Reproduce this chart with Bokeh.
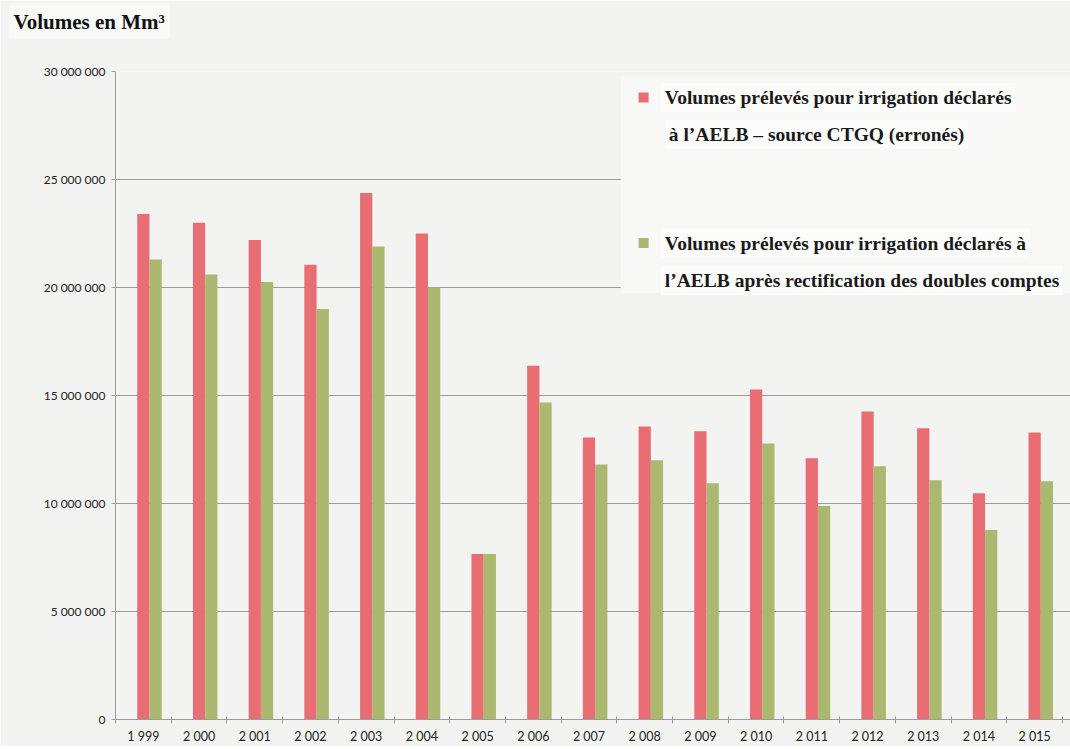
import numpy as np
from bokeh.plotting import figure
from bokeh.models import (Range1d, FixedTicker, CustomJSTickFormatter, Label,
                          BoxAnnotation, ColumnDataSource, Title)
from bokeh.transform import dodge
from bokeh.embed import file_html
from bokeh.resources import INLINE

# ---------------- data ----------------
years = ["1 999", "2 000", "2 001", "2 002", "2 003", "2 004", "2 005", "2 006",
         "2 007", "2 008", "2 009", "2 010", "2 011", "2 012", "2 013", "2 014", "2 015"]
declared_ctgq = [23.4e6, 23.0e6, 22.2e6, 21.05e6, 24.37e6, 22.5e6, 7.66e6, 16.38e6,
                 13.06e6, 13.57e6, 13.34e6, 15.28e6, 12.09e6, 14.26e6, 13.48e6,
                 10.48e6, 13.29e6]
rectified = [21.3e6, 20.6e6, 20.26e6, 19.0e6, 21.9e6, 20.0e6, 7.66e6, 14.68e6,
             11.8e6, 12.0e6, 10.94e6, 12.78e6, 9.88e6, 11.72e6, 11.08e6,
             8.77e6, 11.03e6]
y_ticks = [0, 5e6, 10e6, 15e6, 20e6, 25e6, 30e6]
y_tick_labels = ["0", "5 000 000", "10 000 000", "15 000 000", "20 000 000",
                 "25 000 000", "30 000 000"]
title_text = "Volumes en Mm\u00b3"
legend_red = ["Volumes prélevés pour irrigation déclarés",
              "à l\u2019AELB \u2013 source CTGQ (erronés)"]
legend_green = ["Volumes prélevés pour irrigation déclarés à",
                "l\u2019AELB après rectification des doubles comptes"]

RED = "#E86E73"
GREEN = "#ABB86F"
BG = "#F3F3F1"
GRID = "#9C9C9C"

n = len(years)
centers = list(np.arange(n) + 0.5)
source = ColumnDataSource(dict(x=centers, red=declared_ctgq, green=rectified))

p = figure(width=1070, height=746, output_backend="svg", toolbar_location=None,
           x_range=Range1d(0, n + 0.1436), y_range=Range1d(0, 30e6),
           min_border_left=115, min_border_right=0, min_border_top=71,
           min_border_bottom=25)
p.background_fill_color = BG
p.border_fill_color = BG
p.outline_line_color = None

# the pasted title label, lifted away from the frame by a blank spacer title
p.title.text = title_text
p.title.align = "left"
p.title.offset = -107
p.title.standoff = 0
p.title.text_font = "Liberation Serif"
p.title.text_font_style = "bold"
p.title.text_font_size = "21px"
p.title.text_color = "#111111"
p.title.background_fill_color = "#FAFAF9"
p.title.padding = 5
p.add_layout(Title(text=" ", text_font_size="2px", standoff=29), "above")

p.vbar(x="x", top="red", width=0.22, source=source, fill_color=RED, line_color=None)
p.vbar(x=dodge("x", 0.22, range=p.x_range), top="green", width=0.22, source=source,
       fill_color=GREEN, line_color=None)

# axes
p.xgrid.grid_line_color = None
p.ygrid.grid_line_color = GRID
p.ygrid.grid_line_width = 1
p.ygrid.ticker = FixedTicker(ticks=y_ticks)

p.yaxis.ticker = FixedTicker(ticks=y_ticks)
p.yaxis.formatter = CustomJSTickFormatter(
    args=dict(tick_values=y_ticks, tick_labels=y_tick_labels),
    code="const i = tick_values.indexOf(tick); return i >= 0 ? tick_labels[i] : '';")
p.yaxis.axis_line_color = GRID
p.yaxis.major_tick_line_color = GRID
p.yaxis.major_tick_out = 4
p.yaxis.major_tick_in = 0
p.yaxis.minor_tick_line_color = None
p.yaxis.major_label_standoff = 6
p.yaxis.major_label_text_font = "Lato"
p.yaxis.major_label_text_font_size = "12px"
p.yaxis.major_label_text_color = "#222222"

p.xaxis.ticker = FixedTicker(ticks=centers, minor_ticks=list(range(n + 1)))
p.xaxis.formatter = CustomJSTickFormatter(args=dict(year_labels=years),
                                          code="return year_labels[Math.floor(tick)];")
p.xaxis.axis_line_color = GRID
p.xaxis.major_tick_line_color = None
p.xaxis.major_tick_out = 4
p.xaxis.major_tick_in = 0
p.xaxis.minor_tick_line_color = GRID
p.xaxis.minor_tick_out = 4
p.xaxis.minor_tick_in = 3
p.xaxis.major_label_standoff = 5
p.xaxis.major_label_text_font = "Lato"
p.xaxis.major_label_text_font_size = "12.5px"
p.xaxis.major_label_text_color = "#222222"

# legend paper
p.add_layout(BoxAnnotation(left=9.07, right=17.2, top=29.8e6, bottom=19.75e6,
                           fill_color="#F8F8F7", fill_alpha=1.0, line_color=None,
                           level="underlay"))

lab_kw = dict(text_font="Liberation Serif", text_font_style="bold",
              text_font_size="19.5px", text_baseline="middle", text_align="left",
              text_color="#1A1A1A", background_fill_color="#FCFCFB", padding=4)
p.add_layout(Label(x=9.79, y=28.8e6, text=legend_red[0], **lab_kw))
p.add_layout(Label(x=9.86, y=27.09e6, text=legend_red[1], **lab_kw))
p.add_layout(Label(x=9.79, y=22.06e6, text=legend_green[0], **lab_kw))
p.add_layout(Label(x=9.79, y=20.31e6, text=legend_green[1], **lab_kw))
p.scatter(x=[9.48, 9.48], y=[28.8e6, 22.06e6], marker="square", size=10,
          color=[RED, GREEN], line_color=None)

open("out.html", "w").write(file_html(p, INLINE))
